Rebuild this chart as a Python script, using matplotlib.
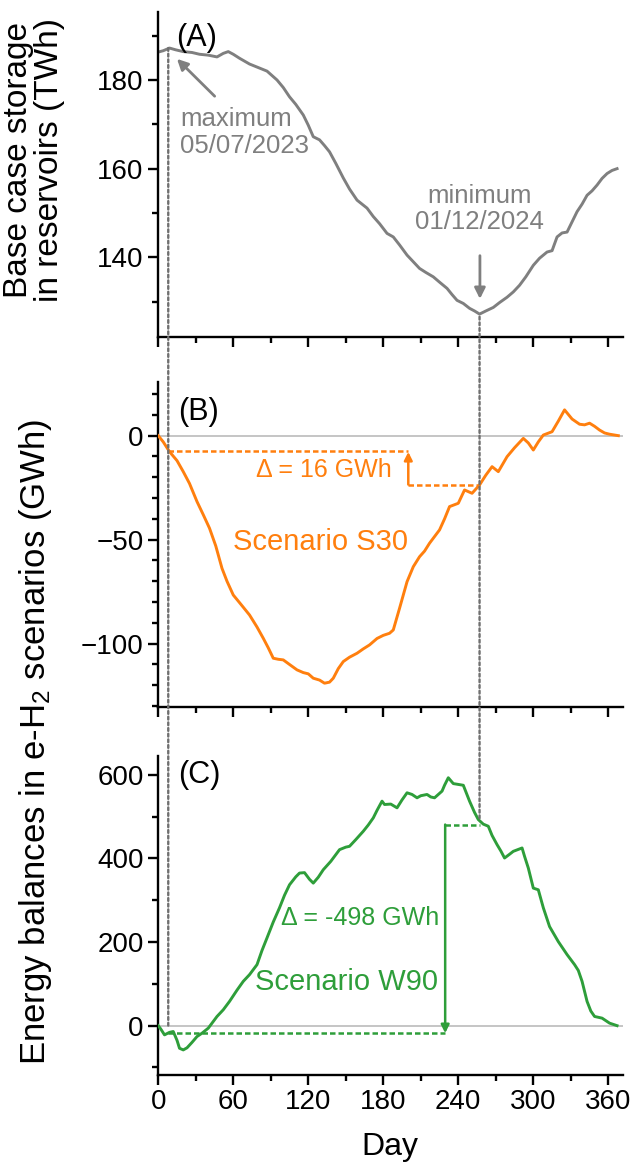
import numpy as np
import matplotlib
matplotlib.use("Agg")
import matplotlib.pyplot as plt
from matplotlib.ticker import MultipleLocator
from matplotlib.patches import ConnectionPatch

plt.rcParams['font.family'] = ['Liberation Sans', 'DejaVu Sans']
plt.rcParams['mathtext.fontset'] = 'custom'
plt.rcParams['mathtext.rm'] = 'Liberation Sans'
plt.rcParams['mathtext.default'] = 'regular'

## data
# (A) base case storage in reservoirs, TWh
days_a = [0, 4, 9, 14, 20, 27, 33, 40, 47, 52, 56, 60, 65, 73, 80, 87, 95, 100,
          105, 110, 116, 120, 124, 129, 133, 137, 142, 148, 153, 159, 163, 167,
          172, 177, 183, 188, 193, 199, 204, 209, 214, 220, 225, 231, 235, 239,
          244, 249, 253, 257, 262, 268, 273, 279, 284, 289, 294, 300, 305, 311,
          315, 319, 323, 327, 331, 335, 339, 343, 347, 351, 355, 359, 363, 367]
storage_a = [186.3, 186.6, 187.2, 186.8, 186.4, 186.2, 185.8, 185.6, 185.2, 186.0,
             186.4, 185.8, 184.9, 183.6, 182.8, 182.0, 180.0, 178.3, 176.2, 174.5,
             172.1, 169.8, 167.2, 166.5, 165.2, 163.8, 161.2, 157.9, 155.4, 152.9,
             152.0, 151.1, 149.2, 147.6, 145.4, 144.6, 142.8, 140.5, 139.0, 137.5,
             136.6, 135.6, 134.4, 133.0, 131.6, 130.3, 129.6, 128.5, 127.9, 127.2,
             127.9, 128.7, 129.8, 131.0, 132.2, 133.7, 135.6, 138.2, 139.8, 141.2,
             141.5, 144.6, 145.5, 145.7, 148.0, 150.3, 152.0, 154.0, 155.0, 156.3,
             157.8, 158.9, 159.6, 160.0]

# (B) scenario S30, GWh
days_b = [0, 4, 9, 15, 20, 25, 31, 36, 41, 46, 51, 55, 60, 66, 73, 79, 84, 88, 92,
          96, 100, 105, 111, 116, 120, 124, 129, 133, 137, 140, 144, 148, 153, 159,
          164, 169, 175, 180, 185, 188, 193, 199, 204, 209, 213, 217, 221, 225, 229,
          233, 240, 245, 251, 257, 262, 267, 272, 279, 285, 292, 296, 300, 304, 308,
          315, 320, 325, 331, 337, 341, 345, 349, 353, 357, 361, 368]
balance_b = [0, -3, -7.7, -12, -17.3, -23, -31.7, -38, -44.5, -53, -63.8, -70, -76.6,
             -81, -86.2, -92, -97.4, -102, -107, -107.5, -107.8, -110, -112.6, -113.9,
             -114.5, -116.6, -117.5, -119, -118.5, -116.6, -112, -108.6, -106.5, -104.6,
             -102.5, -100.6, -97.5, -96, -95, -93.4, -83, -70.2, -63, -58.2, -55.5,
             -51.7, -48.5, -45.3, -40, -34.1, -32.5, -26.1, -27.7, -23.7, -19, -14.9,
             -17.3, -10.1, -5.8, -1.3, -3.5, -6.9, -3, 0.3, 1.9, 7, 12.4, 8, 5.5, 5.2,
             6, 4.5, 2.7, 1.3, 0.7, 0]

# (C) scenario W90, GWh
days_c = [0, 2, 5, 9, 12, 15, 17, 20, 23, 27, 31, 35, 40, 47, 52, 57, 63, 68, 73,
          79, 83, 87, 92, 97, 101, 105, 110, 113, 117, 121, 124, 128, 132, 138, 145,
          150, 153, 158, 164, 168, 172, 175, 179, 181, 186, 191, 195, 199, 203, 207,
          210, 215, 218, 221, 227, 229, 232, 236, 240, 244, 249, 253, 256, 260, 264,
          267, 271, 274, 277, 281, 284, 291, 293, 296, 300, 304, 308, 313, 320, 327,
          333, 336, 339, 343, 346, 349, 355, 358, 361, 367]
balance_c = [0, -8, -22, -16, -14, -35, -54, -58, -53, -40, -26, -18, -6, 22, 38, 58,
             85, 106, 122, 146, 180, 210, 248, 282, 312, 337, 356, 365, 366, 350, 341,
             355, 373, 393, 421, 427, 429, 445, 465, 480, 497, 515, 537, 529, 530, 521,
             540, 557, 553, 545, 550, 553, 547, 545, 561, 575, 593, 579, 577, 575, 537,
             510, 493, 482, 477, 455, 433, 418, 401, 410, 417, 425, 405, 377, 329, 325,
             282, 237, 201, 170, 146, 132, 106, 58, 35, 22, 18, 12, 6, 0]

# marked days and delta levels
day_max = 8
day_min = 257
s30_levels = (-7.5, -23.5)   # before / at minimum
w90_levels = (-18, 481)

GRAY = '#7f7f7f'
ORANGE = '#ff7f0e'
GREEN = '#2e9e3a'
DOT = '#707070'

fig = plt.figure(figsize=(6.34, 11.72), dpi=100)
W, H = 634.0, 1172.0
left = 157.5 / W
width = 465.2 / W

def panel(top, bottom):
    return fig.add_axes([left, 1 - bottom / H, width, (bottom - top) / H])

axA = panel(11.7, 336.7)
axB = panel(382, 706.7)
axC = panel(756, 1075)

for ax in (axA, axB, axC):
    ax.set_xlim(-0.6, 371.5)
    ax.spines['top'].set_visible(False)
    ax.spines['right'].set_visible(False)
    for s in ('left', 'bottom'):
        ax.spines[s].set_linewidth(1.7)
    ax.xaxis.set_major_locator(MultipleLocator(60))
    ax.xaxis.set_minor_locator(MultipleLocator(30))
    ax.tick_params(which='major', direction='out', length=7, width=1.7,
                   labelsize=20, pad=3)
    ax.tick_params(which='minor', direction='out', length=4, width=1.7)
axA.tick_params(axis='x', labelbottom=False)
axB.tick_params(axis='x', labelbottom=False)

# panel A
axA.plot(days_a, storage_a, color=GRAY, lw=2.1)
axA.set_ylim(122.1, 195.4)
axA.set_yticks([140, 160, 180])
axA.yaxis.set_minor_locator(MultipleLocator(10))
axA.text(14.5, 189.5, '(A)', fontsize=22, va='center', ha='left')
axA.annotate('', xy=(13.4, 185.2), xytext=(46.7, 175.9),
             arrowprops=dict(arrowstyle='-|>', color=GRAY, lw=2, mutation_scale=16))
axA.text(17.4, 168.2, 'maximum\n05/07/2023', color=GRAY, fontsize=18.5,
         ha='left', va='center', linespacing=1.15)
axA.text(257.3, 150.9, 'minimum\n01/12/2024', color=GRAY, fontsize=18.5,
         ha='center', va='center', linespacing=1.15)
axA.annotate('', xy=(257.3, 130.0), xytext=(257.3, 141.0),
             arrowprops=dict(arrowstyle='-|>', color=GRAY, lw=2, mutation_scale=16))

# panel B
axB.axhline(0, color='#b5b5b5', lw=1.1, zorder=1)
axB.plot(days_b, balance_b, color=ORANGE, lw=2.1, zorder=3)
axB.set_ylim(-130.3, 25.8)
axB.set_yticks([-100, -50, 0])
axB.set_yticklabels(['\u2212100', '\u221250', '0'])
axB.yaxis.set_minor_locator(MultipleLocator(10))
axB.text(15.8, 11.5, '(B)', fontsize=22, va='center', ha='left')
dash = (0, (2.2, 1.2))
axB.plot([day_max, 200], [s30_levels[0]] * 2, color=ORANGE, lw=1.8, ls=dash)
axB.plot([200, day_min], [s30_levels[1]] * 2, color=ORANGE, lw=1.8, ls=dash)
axB.annotate('', xy=(200, s30_levels[0] - 0.3), xytext=(200, s30_levels[1]),
             arrowprops=dict(arrowstyle='-|>', color=ORANGE, lw=1.8,
                             mutation_scale=12, shrinkA=0, shrinkB=0))
axB.text(186.5, -16.5, '\u0394 = 16 GWh', color=ORANGE, fontsize=18,
         ha='right', va='center')
axB.text(60, -51.1, 'Scenario S30', color=ORANGE, fontsize=21,
         ha='left', va='center')

# panel C
axC.axhline(0, color='#b5b5b5', lw=1.1, zorder=1)
axC.plot(days_c, balance_c, color=GREEN, lw=2.1, zorder=3)
axC.set_ylim(-118, 645)
axC.set_yticks([0, 200, 400, 600])
axC.yaxis.set_minor_locator(MultipleLocator(100))
axC.text(15.8, 600, '(C)', fontsize=22, va='center', ha='left')
axC.plot([day_max, 229.5], [w90_levels[0]] * 2, color=GREEN, lw=1.8, ls=dash)
axC.plot([229.5, day_min], [w90_levels[1]] * 2, color=GREEN, lw=1.8, ls=dash)
axC.annotate('', xy=(229.5, w90_levels[0]), xytext=(229.5, w90_levels[1]),
             arrowprops=dict(arrowstyle='-|>', color=GREEN, lw=1.8,
                             mutation_scale=12, shrinkA=0, shrinkB=0))
axC.text(225, 258, '\u0394 = -498 GWh', color=GREEN, fontsize=18,
         ha='right', va='center')
axC.text(224, 105, 'Scenario W90', color=GREEN, fontsize=21,
         ha='right', va='center')
axC.set_xlabel('Day', fontsize=23, labelpad=12)

# dotted guides running through all panels
for xa, ya, yc in [(day_max, 187.2, 0), (day_min, 126.6, 493)]:
    cp = ConnectionPatch(xyA=(xa, ya), coordsA=axA.transData,
                         xyB=(xa, yc), coordsB=axC.transData,
                         arrowstyle='-', color=DOT, lw=1.7,
                         linestyle=(0, (1.2, 1.2)), zorder=5)
    fig.add_artist(cp)

# y labels
fig.text(34 / W, 1 - 160 / H, 'Base case storage\nin reservoirs (TWh)',
         rotation=90, ha='center', va='center', fontsize=24, linespacing=1.0)
fig.text(36 / W, 1 - 742 / H, 'Energy balances in e-H$_2$ scenarios (GWh)',
         rotation=90, ha='center', va='center', fontsize=25)

fig.savefig('out.png', dpi=100)
